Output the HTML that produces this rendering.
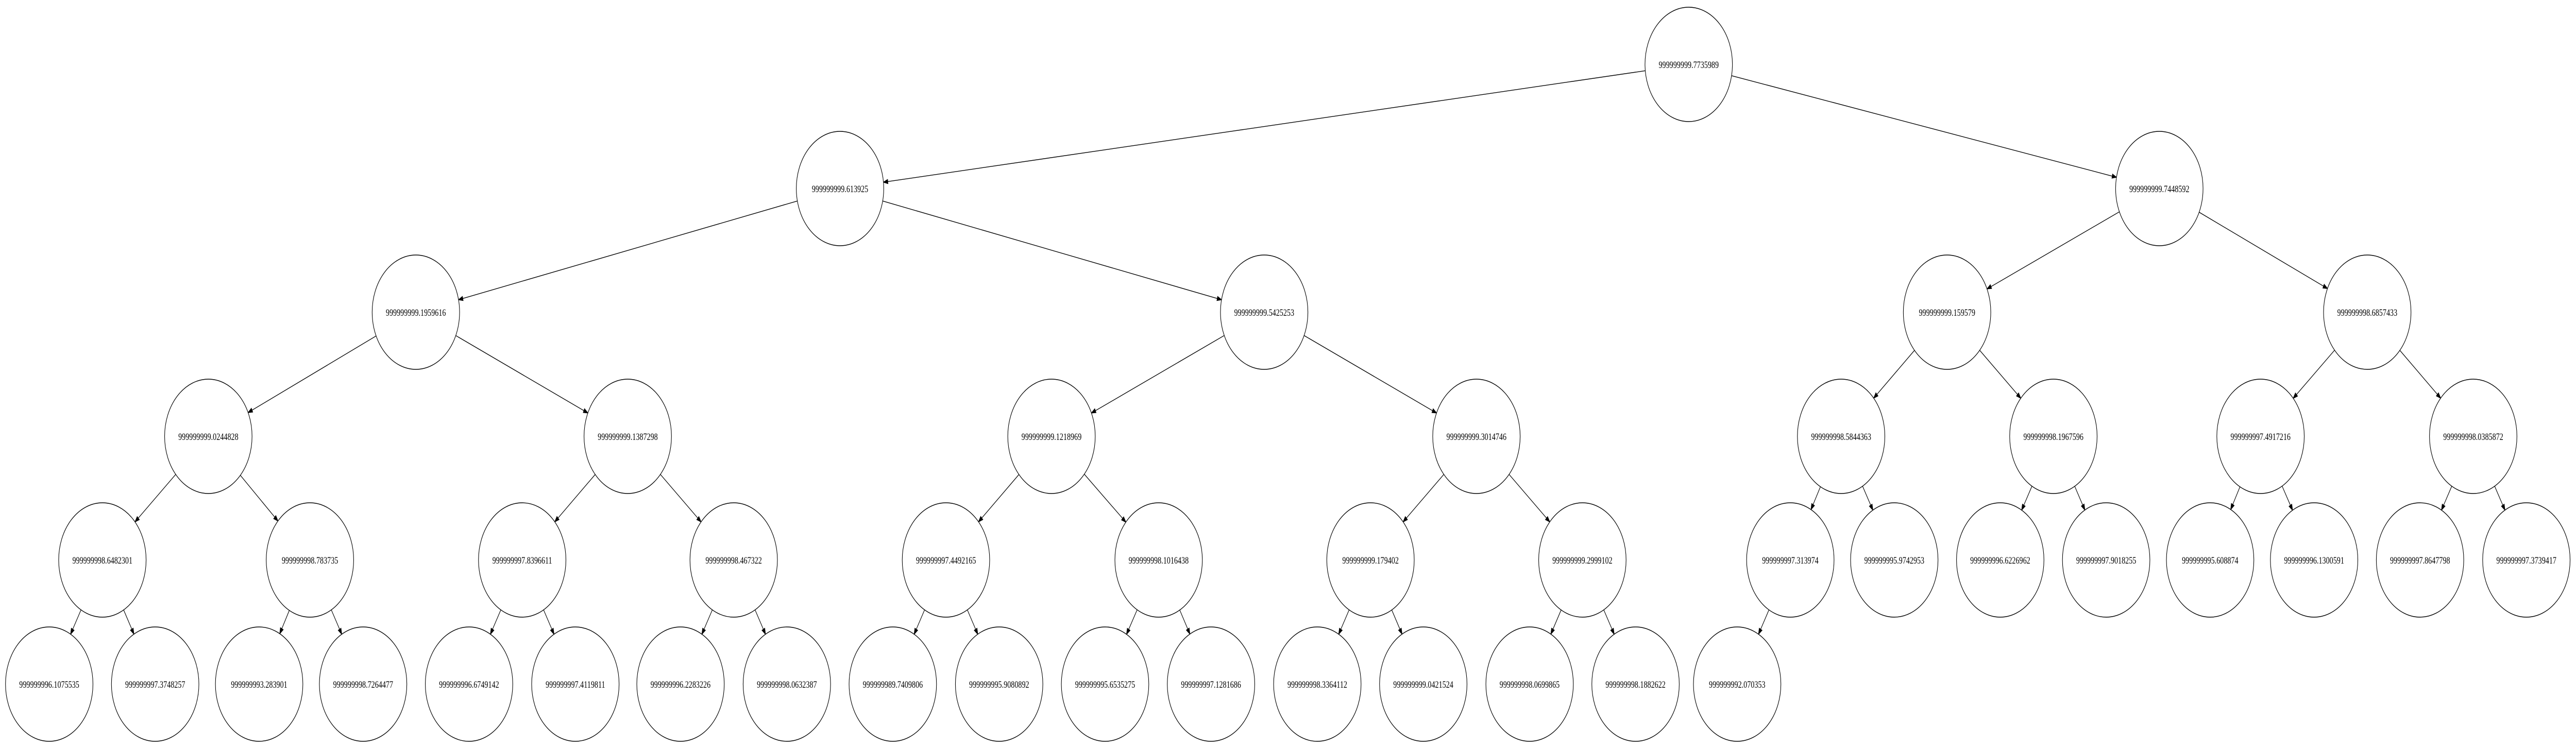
<!DOCTYPE html>
<html><head><meta charset="utf-8"><style>
html,body{margin:0;padding:0;background:#fff;overflow:hidden;width:100%;height:100%;}
svg{display:block;width:100vw;height:100vh;}
text{font-family:"Liberation Serif",serif;font-size:18.5px;fill:#000;}
</style></head><body>
<svg id="s" viewBox="0 0 6541 1452" preserveAspectRatio="none" xmlns="http://www.w3.org/2000/svg">
<g id="edges" stroke="#000" stroke-width="1.4" fill="#000"></g>
<g fill="#fff" stroke="#000" stroke-width="1.4" text-anchor="middle">
<g><circle cx="4288" cy="125" r="111"/><text x="4288" y="132" stroke="none">999999999.7735989</text></g>
<g><circle cx="2133" cy="366" r="111"/><text x="2133" y="373" stroke="none">999999999.613925</text></g>
<g><circle cx="5483" cy="366" r="111"/><text x="5483" y="373" stroke="none">999999999.7448592</text></g>
<g><circle cx="1056" cy="606" r="111"/><text x="1056" y="613" stroke="none">999999999.1959616</text></g>
<g><circle cx="3210" cy="606" r="111"/><text x="3210" y="613" stroke="none">999999999.5425253</text></g>
<g><circle cx="4944" cy="606" r="111"/><text x="4944" y="613" stroke="none">999999999.159579</text></g>
<g><circle cx="6011" cy="606" r="111"/><text x="6011" y="613" stroke="none">999999998.6857433</text></g>
<g><circle cx="529" cy="847" r="111"/><text x="529" y="854" stroke="none">999999999.0244828</text></g>
<g><circle cx="1594" cy="847" r="111"/><text x="1594" y="854" stroke="none">999999999.1387298</text></g>
<g><circle cx="2670" cy="847" r="111"/><text x="2670" y="854" stroke="none">999999999.1218969</text></g>
<g><circle cx="3749" cy="847" r="111"/><text x="3749" y="854" stroke="none">999999999.3014746</text></g>
<g><circle cx="4675" cy="847" r="111"/><text x="4675" y="854" stroke="none">999999998.5844363</text></g>
<g><circle cx="5214" cy="847" r="111"/><text x="5214" y="854" stroke="none">999999998.1967596</text></g>
<g><circle cx="5740" cy="847" r="111"/><text x="5740" y="854" stroke="none">999999997.4917216</text></g>
<g><circle cx="6280" cy="847" r="111"/><text x="6280" y="854" stroke="none">999999998.0385872</text></g>
<g><circle cx="260" cy="1087" r="111"/><text x="260" y="1094" stroke="none">999999998.6482301</text></g>
<g><circle cx="787" cy="1087" r="111"/><text x="787" y="1094" stroke="none">999999998.783735</text></g>
<g><circle cx="1326" cy="1087" r="111"/><text x="1326" y="1094" stroke="none">999999997.8396611</text></g>
<g><circle cx="1863" cy="1087" r="111"/><text x="1863" y="1094" stroke="none">999999998.467322</text></g>
<g><circle cx="2402" cy="1087" r="111"/><text x="2402" y="1094" stroke="none">999999997.4492165</text></g>
<g><circle cx="2942" cy="1087" r="111"/><text x="2942" y="1094" stroke="none">999999998.1016438</text></g>
<g><circle cx="3480" cy="1087" r="111"/><text x="3480" y="1094" stroke="none">999999999.179402</text></g>
<g><circle cx="4018" cy="1087" r="111"/><text x="4018" y="1094" stroke="none">999999999.2999102</text></g>
<g><circle cx="4546" cy="1087" r="111"/><text x="4546" y="1094" stroke="none">999999997.313974</text></g>
<g><circle cx="4810" cy="1087" r="111"/><text x="4810" y="1094" stroke="none">999999995.9742953</text></g>
<g><circle cx="5079" cy="1087" r="111"/><text x="5079" y="1094" stroke="none">999999996.6226962</text></g>
<g><circle cx="5348" cy="1087" r="111"/><text x="5348" y="1094" stroke="none">999999997.9018255</text></g>
<g><circle cx="5612" cy="1087" r="111"/><text x="5612" y="1094" stroke="none">999999995.608874</text></g>
<g><circle cx="5876" cy="1087" r="111"/><text x="5876" y="1094" stroke="none">999999996.1300591</text></g>
<g><circle cx="6145" cy="1087" r="111"/><text x="6145" y="1094" stroke="none">999999997.8647798</text></g>
<g><circle cx="6415" cy="1087" r="111"/><text x="6415" y="1094" stroke="none">999999997.3739417</text></g>
<g><circle cx="125" cy="1328" r="111"/><text x="125" y="1335" stroke="none">999999996.1075535</text></g>
<g><circle cx="394" cy="1328" r="111"/><text x="394" y="1335" stroke="none">999999997.3748257</text></g>
<g><circle cx="658" cy="1328" r="111"/><text x="658" y="1335" stroke="none">999999993.283901</text></g>
<g><circle cx="922" cy="1328" r="111"/><text x="922" y="1335" stroke="none">999999998.7264477</text></g>
<g><circle cx="1191" cy="1328" r="111"/><text x="1191" y="1335" stroke="none">999999996.6749142</text></g>
<g><circle cx="1461" cy="1328" r="111"/><text x="1461" y="1335" stroke="none">999999997.4119811</text></g>
<g><circle cx="1728" cy="1328" r="111"/><text x="1728" y="1335" stroke="none">999999996.2283226</text></g>
<g><circle cx="1998" cy="1328" r="111"/><text x="1998" y="1335" stroke="none">999999998.0632387</text></g>
<g><circle cx="2267" cy="1328" r="111"/><text x="2267" y="1335" stroke="none">999999989.7409806</text></g>
<g><circle cx="2537" cy="1328" r="111"/><text x="2537" y="1335" stroke="none">999999995.9080892</text></g>
<g><circle cx="2806" cy="1328" r="111"/><text x="2806" y="1335" stroke="none">999999995.6535275</text></g>
<g><circle cx="3075" cy="1328" r="111"/><text x="3075" y="1335" stroke="none">999999997.1281686</text></g>
<g><circle cx="3345" cy="1328" r="111"/><text x="3345" y="1335" stroke="none">999999998.3364112</text></g>
<g><circle cx="3614" cy="1328" r="111"/><text x="3614" y="1335" stroke="none">999999999.0421524</text></g>
<g><circle cx="3884" cy="1328" r="111"/><text x="3884" y="1335" stroke="none">999999998.0699865</text></g>
<g><circle cx="4153" cy="1328" r="111"/><text x="4153" y="1335" stroke="none">999999998.1882622</text></g>
<g><circle cx="4411" cy="1328" r="111"/><text x="4411" y="1335" stroke="none">999999992.070353</text></g>
</g>
</svg>
<script>
(function(){
var L=[125,366,606,847,1087,1328];
var E=[
[4288,0,2133],[4288,0,5483],
[2133,1,1056],[2133,1,3210],[5483,1,4944],[5483,1,6011],
[1056,2,529],[1056,2,1594],[3210,2,2670],[3210,2,3749],[4944,2,4675],[4944,2,5214],[6011,2,5740],[6011,2,6280],
[529,3,260],[529,3,787],[1594,3,1326],[1594,3,1863],[2670,3,2402],[2670,3,2942],[3749,3,3480],[3749,3,4018],
[4675,3,4546],[4675,3,4810],[5214,3,5079],[5214,3,5348],[5740,3,5612],[5740,3,5876],[6280,3,6145],[6280,3,6415],
[260,4,125],[260,4,394],[787,4,658],[787,4,922],[1326,4,1191],[1326,4,1461],[1863,4,1728],[1863,4,1998],
[2402,4,2267],[2402,4,2537],[2942,4,2806],[2942,4,3075],[3480,4,3345],[3480,4,3614],[4018,4,3884],[4018,4,4153],
[4546,4,4411]];
var g=document.getElementById('edges'),ns='http://www.w3.org/2000/svg',R=111,AL=11,AW=4;
E.forEach(function(e){
var x1=e[0],y1=L[e[1]],x2=e[2],y2=L[e[1]+1];
var dx=x2-x1,dy=y2-y1,d=Math.sqrt(dx*dx+dy*dy),ux=dx/d,uy=dy/d;
var sx=x1+ux*R,sy=y1+uy*R,tx=x2-ux*R,ty=y2-uy*R,bx=tx-ux*AL,by=ty-uy*AL;
var l=document.createElementNS(ns,'line');
l.setAttribute('x1',sx);l.setAttribute('y1',sy);l.setAttribute('x2',bx);l.setAttribute('y2',by);
g.appendChild(l);
var p=document.createElementNS(ns,'polygon');
p.setAttribute('points',tx+','+ty+' '+(bx-uy*AW)+','+(by+ux*AW)+' '+(bx+uy*AW)+','+(by-ux*AW));
g.appendChild(p);
});
})();
</script>
</body></html>
